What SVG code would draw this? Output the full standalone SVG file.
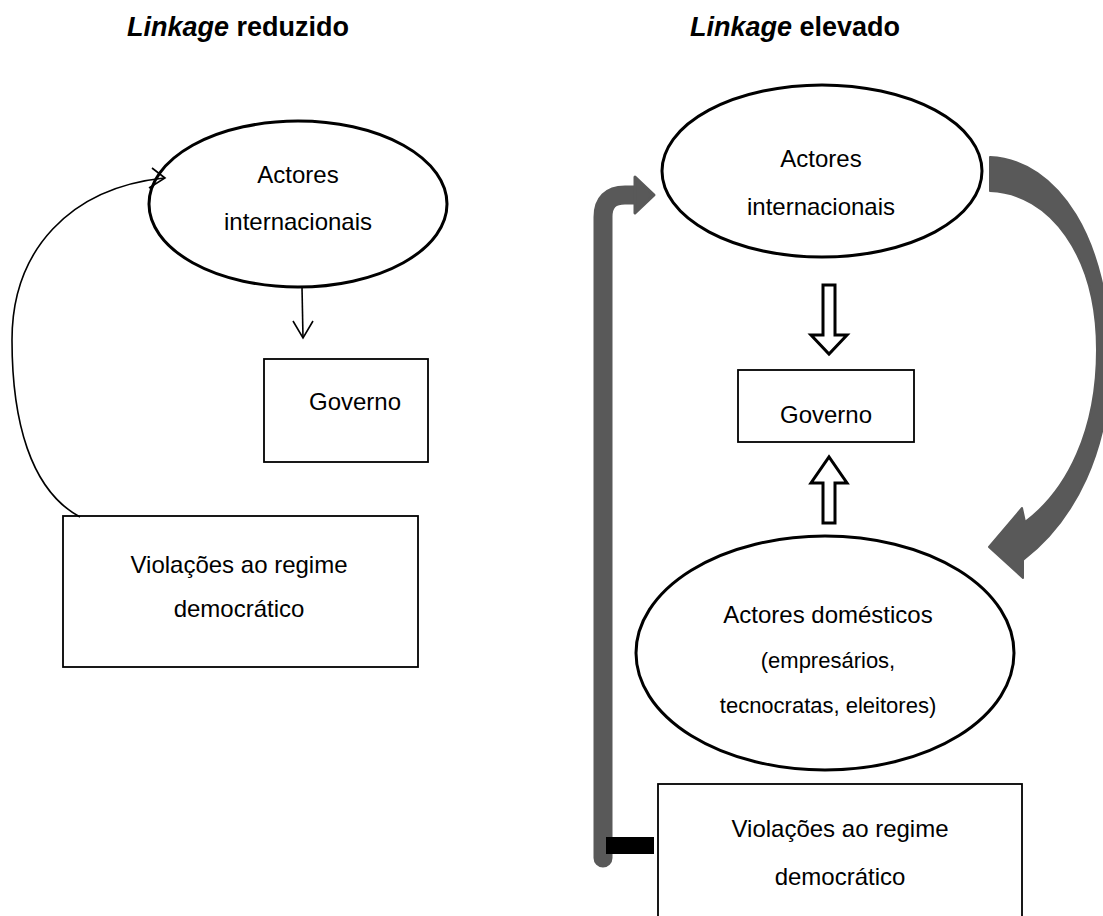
<svg xmlns="http://www.w3.org/2000/svg" width="1103" height="916" viewBox="0 0 1103 916">
<style>
text{font-family:"Liberation Sans",Arial,sans-serif;fill:#000}
.t{font-size:24px;text-anchor:middle}
.s{font-size:22px;text-anchor:middle}
.h{font-size:27px;font-weight:bold;text-anchor:middle}
.box{fill:#fff;stroke:#000;stroke-width:1.8}
.ell{fill:#fff;stroke:#000;stroke-width:3}
.thin{fill:none;stroke:#000;stroke-width:1.6}
.hollow{fill:#fff;stroke:#000;stroke-width:3;stroke-linejoin:miter}
.gray{fill:#595959}
</style>
<rect width="1103" height="916" fill="#fff"/>
<g id="titles">
<text class="h" x="238" y="36"><tspan font-style="italic">Linkage</tspan> reduzido</text>
<text class="h" x="795" y="36"><tspan font-style="italic">Linkage</tspan> elevado</text>
</g>
<g id="left-actores-internacionais">
<ellipse class="ell" cx="298" cy="204" rx="149" ry="83"/>
<text class="t" x="298" y="183">Actores</text>
<text class="t" x="298" y="230">internacionais</text>
</g>
<g id="left-governo">
<rect class="box" x="264" y="359" width="164" height="103"/>
<text class="t" x="355" y="410">Governo</text>
</g>
<g id="left-violacoes">
<rect class="box" x="63" y="516" width="355" height="151"/>
<text class="t" x="239" y="573">Violações ao regime</text>
<text class="t" x="239" y="617">democrático</text>
</g>
<g id="right-actores-internacionais">
<ellipse class="ell" cx="822" cy="171" rx="160" ry="86" stroke-width="2.6"/>
<text class="t" x="821" y="167">Actores</text>
<text class="t" x="821" y="215">internacionais</text>
</g>
<g id="right-governo">
<rect class="box" x="738" y="370" width="176" height="72"/>
<text class="t" x="826" y="423">Governo</text>
</g>
<g id="right-actores-domesticos">
<ellipse class="ell" cx="825" cy="653" rx="189" ry="117"/>
<text class="t" x="828" y="623">Actores domésticos</text>
<text class="s" x="828" y="668">(empresários,</text>
<text class="s" x="828" y="713">tecnocratas, eleitores)</text>
</g>
<g id="right-violacoes">
<rect class="box" x="658" y="784" width="364" height="160"/>
<text class="t" x="840" y="837">Violações ao regime</text>
<text class="t" x="840" y="885">democrático</text>
</g>
<g id="connectors">
<path class="thin" d="M80 517 C30 490 12 420 12 340 C12 250 70 188 164 178"/>
<path class="thin" d="M152 168 L165 178 L149 188"/>
<path class="thin" d="M302 287 L303 338"/>
<path class="thin" d="M293 321 L303 338 L313 321"/>
<path class="hollow" d="M823 285 H835 V335 H847 L829 354 L811 335 H823 Z"/>
<path class="hollow" d="M823 523 H835 V483 H847 L829 457 L811 483 H823 Z"/>
<path d="M603 858 V217 Q603 195 625 195 H637" fill="none" stroke="#595959" stroke-width="19" stroke-linejoin="round" stroke-linecap="round"/>
<path class="gray" d="M635 177 L654 195 L635 213 Z" stroke="#595959" stroke-width="3" stroke-linejoin="round"/>
<rect x="606" y="837" width="48" height="17" fill="#000"/>
<path class="gray" d="M990 157 C1058 160 1110 240 1110 360 C1110 450 1075 520 1023 560 L1023 578 L989 547 L1022 508 L1025 522 C1068 490 1097 430 1097 350 C1097 255 1050 193 990 191 Z" stroke="#595959" stroke-width="2" stroke-linejoin="round"/>
</g>
</svg>
